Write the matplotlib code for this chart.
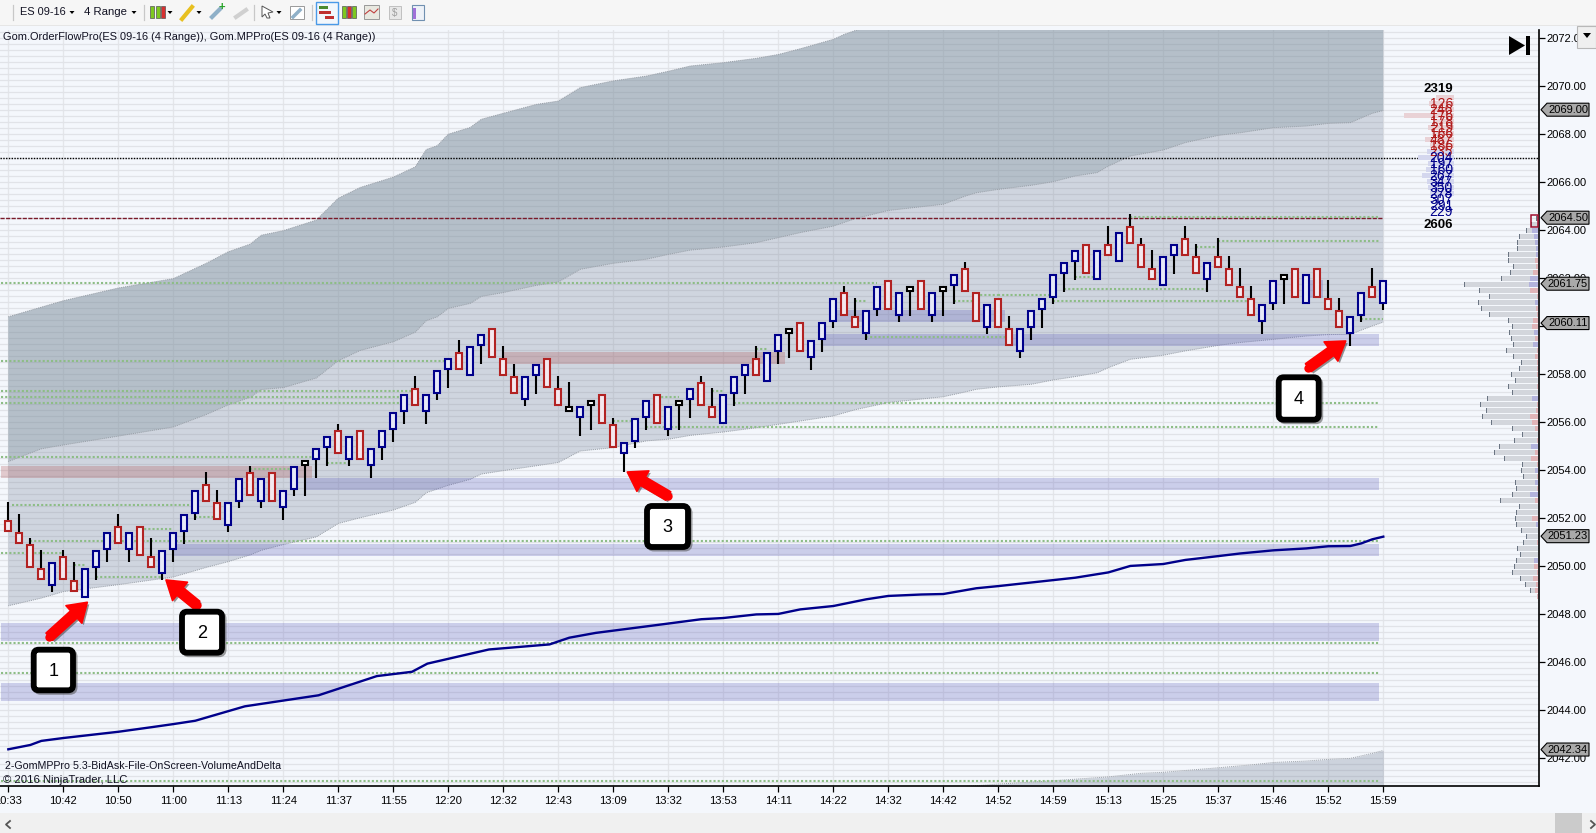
import matplotlib
matplotlib.use('Agg')
import matplotlib.pyplot as plt
from matplotlib.patches import Rectangle, Polygon, FancyBboxPatch, FancyArrowPatch

plt.rcParams['font.family'] = ['Liberation Sans', 'DejaVu Sans']

# candles, one entry per bar
candle_kind = ('rrrrbrrbbb' 'rbrrbbbbrr' 'bbrbrbbkbb' 'rbrbbbbrbb'
               'brbbrrrbbr' 'rkbkrrbbbr' 'bkbrrbbbrb' 'bkrbbbrrbb'
               'rbkrbkbrrb' 'rrbbbbbbrb' 'rbrrrbbrrb' 'rrrrbbkrbr' 'rrbbrb')
candle_top = [2052, 2051.5, 2051, 2050, 2050.25, 2050.5, 2049.5, 2050, 2050.75, 2051.5,
              2051.75, 2051.5, 2051.75, 2050.5, 2050.75, 2051.5, 2052.25, 2053.25, 2053.5, 2052.75,
              2052.75, 2053.75, 2054, 2053.75, 2054, 2053.25, 2054.25, 2054.5, 2055, 2055.5,
              2055.75, 2055.5, 2055.75, 2055, 2055.75, 2056.5, 2057.25, 2057.5, 2057.25, 2058.25,
              2058.75, 2059, 2059.25, 2059.75, 2060, 2058.75, 2058, 2058, 2058.5, 2058.75,
              2057.5, 2056.75, 2056.75, 2057, 2057.25, 2056, 2055.25, 2056.25, 2057, 2057.25,
              2056.75, 2057, 2057.5, 2057.75, 2056.75, 2057.25, 2058, 2058.5, 2058.75, 2059,
              2059.75, 2060, 2060.25, 2059.5, 2060.25, 2061.25, 2061.5, 2060.5, 2060.75, 2061.75,
              2062, 2061.5, 2061.75, 2062, 2061.5, 2061.75, 2062.25, 2062.5, 2061.5, 2061,
              2061.25, 2060, 2060, 2060.75, 2061.25, 2062.25, 2062.75, 2063.25, 2063.5, 2063.25,
              2063.5, 2064, 2064.25, 2063.5, 2062.5, 2063, 2063.5, 2063.75, 2063, 2062.75,
              2063, 2062.5, 2061.75, 2061.25, 2061, 2062, 2062.25, 2062.5, 2062.25, 2062.5,
              2061.25, 2060.75, 2060.5, 2061.5, 2061.75, 2062]
candle_bottom = [2051.5, 2051, 2050, 2049.5, 2049.25, 2049.5, 2049, 2048.75, 2050, 2050.75,
                 2051, 2050.75, 2050.5, 2050, 2049.75, 2050.75, 2051.5, 2052.25, 2052.75, 2052,
                 2051.75, 2052.75, 2053, 2052.75, 2052.75, 2052.5, 2053.25, 2054.25, 2054.5, 2055,
                 2054.75, 2054.5, 2054.5, 2054.25, 2055, 2055.75, 2056.5, 2056.75, 2056.5, 2057.25,
                 2058.25, 2058.25, 2058, 2059.25, 2058.75, 2058, 2057.25, 2057, 2058, 2057.5,
                 2056.75, 2056.5, 2056.25, 2056.75, 2056, 2055, 2054.75, 2055.25, 2056.25, 2056,
                 2055.75, 2056.75, 2057, 2056.75, 2056.25, 2056, 2057.25, 2058, 2058, 2057.75,
                 2059, 2059.75, 2059, 2058.75, 2059.5, 2060.25, 2060.5, 2060, 2059.75, 2060.75,
                 2060.75, 2060.5, 2061.5, 2060.75, 2060.5, 2061.5, 2061.75, 2061.5, 2060.25, 2060,
                 2060, 2059.25, 2059, 2060, 2060.75, 2061.25, 2062.25, 2062.75, 2062.25, 2062,
                 2063, 2062.75, 2063.5, 2062.5, 2062, 2061.75, 2063, 2063, 2062.25, 2062,
                 2062.5, 2061.75, 2061.25, 2060.5, 2060.25, 2061, 2062, 2061.25, 2061, 2061.25,
                 2060.75, 2060, 2059.75, 2060.5, 2061.25, 2061]
candle_high = [2052.75, 2052.25, 2051.25, 2050.75, 2050.25, 2050.75, 2050.25, 2050, 2050.75, 2051.5,
               2052.25, 2051.5, 2051.75, 2051.25, 2050.75, 2051.5, 2052.25, 2053.25, 2054, 2053.25,
               2052.75, 2053.75, 2054.25, 2053.75, 2054, 2053.25, 2054.25, 2054.5, 2055, 2055.5,
               2056, 2055.5, 2055.75, 2055, 2055.75, 2056.5, 2057.25, 2058, 2057.25, 2058.25,
               2058.75, 2059.5, 2059.25, 2059.75, 2060, 2059.25, 2058.5, 2058, 2058.5, 2058.75,
               2058, 2057.75, 2056.75, 2057, 2057.25, 2056.25, 2055.25, 2056.25, 2057, 2057.25,
               2056.75, 2057, 2057.5, 2058, 2057.5, 2057.25, 2058, 2058.5, 2059.25, 2059,
               2059.75, 2060, 2060.25, 2059.5, 2060.25, 2061.25, 2061.75, 2061.25, 2060.75, 2061.75,
               2062, 2061.5, 2061.75, 2062, 2061.5, 2061.75, 2062.25, 2062.75, 2061.5, 2061,
               2061.25, 2060.5, 2060, 2060.75, 2061.25, 2062.25, 2062.75, 2063.25, 2063.5, 2063.25,
               2064.25, 2064, 2064.75, 2063.75, 2063.25, 2063, 2063.5, 2064.25, 2063.5, 2062.75,
               2063.75, 2063, 2062.5, 2061.75, 2061, 2062, 2062.25, 2062.5, 2062.25, 2062.5,
               2062, 2061.25, 2060.5, 2061.5, 2062.5, 2062]
candle_low = [2051.5, 2051, 2050, 2049.5, 2049, 2049.5, 2049, 2048.75, 2049.5, 2050.25,
              2051, 2050.25, 2050.5, 2050, 2049.5, 2050.25, 2051, 2052, 2052.75, 2052,
              2051.5, 2052.5, 2053, 2052.5, 2052.75, 2052, 2053, 2053, 2053.75, 2054.25,
              2054.75, 2054.25, 2054.5, 2053.75, 2054.5, 2055.25, 2056, 2056.75, 2056, 2057,
              2057.5, 2058.25, 2058, 2058.5, 2058.75, 2058, 2057.25, 2056.75, 2057.25, 2057.5,
              2056.75, 2056.5, 2055.5, 2055.75, 2056, 2055, 2054, 2055, 2055.75, 2056,
              2055.5, 2055.75, 2056.25, 2056.75, 2056.25, 2056, 2056.75, 2057.25, 2058, 2057.75,
              2058.5, 2058.75, 2059, 2058.25, 2059, 2060, 2060.5, 2060, 2059.5, 2060.5,
              2060.75, 2060.25, 2060.5, 2060.75, 2060.25, 2060.5, 2061, 2061.5, 2060.25, 2059.75,
              2060, 2059.25, 2058.75, 2059.5, 2060, 2061, 2061.5, 2062, 2062.25, 2062,
              2063, 2062.75, 2063.5, 2062.5, 2062, 2061.75, 2062.25, 2063, 2062.25, 2061.5,
              2062.5, 2061.75, 2061.25, 2060.5, 2059.75, 2060.75, 2061, 2061.25, 2061, 2061.25,
              2060.75, 2060, 2059.25, 2060.25, 2061.25, 2060.75]

time_labels = ['10:33', '10:42', '10:50', '11:00', '11:13', '11:24', '11:37', '11:55', '12:20', '12:32',
               '12:43', '13:09', '13:32', '13:53', '14:11', '14:22', '14:32', '14:42', '14:52', '14:59',
               '15:13', '15:25', '15:37', '15:46', '15:52', '15:59']

# band edges, read at the bars listed
upper2_bar = [0, 5, 10, 15, 18, 20, 22, 23, 25, 28, 30, 32, 35, 37, 38, 39, 40, 42, 43, 45, 48, 50, 52, 55,
              58, 60, 62, 65, 68, 70, 72, 75, 76, 77, 80, 90, 100, 110, 125]
upper2_val = [2060.37, 2061.04, 2061.57, 2061.96, 2062.6, 2063.08, 2063.4, 2063.77, 2063.96, 2064.4, 2065.31,
              2065.76, 2066.19, 2066.62, 2067.34, 2067.5, 2067.98, 2068.26, 2068.6, 2068.85, 2069.22, 2069.36,
              2069.92, 2070.2, 2070.4, 2070.6, 2070.82, 2070.96, 2071.14, 2071.3, 2071.54, 2071.93, 2072.14,
              2072.3, 2072.7, 2073.4, 2074.4, 2075.5, 2076.5]
upper1_bar = [0, 3, 5, 10, 15, 18, 20, 22, 23, 25, 28, 30, 32, 35, 37, 38, 39, 40, 42, 43, 45, 48, 50, 52, 55,
              58, 60, 62, 65, 68, 70, 72, 75, 77, 80, 85, 87, 88, 90, 93, 95, 97, 99, 100, 102, 105, 107, 110,
              112, 115, 118, 120, 122, 124, 125]
upper1_val = [2054.34, 2054.87, 2055.03, 2055.4, 2055.78, 2056.3, 2056.7, 2057.02, 2057.34, 2057.42, 2057.82,
              2058.54, 2058.97, 2059.33, 2059.73, 2060.21, 2060.37, 2060.72, 2060.93, 2061.22, 2061.38, 2061.68,
              2061.82, 2062.35, 2062.6, 2062.77, 2062.97, 2063.15, 2063.28, 2063.46, 2063.67, 2063.88, 2064.15,
              2064.46, 2064.8, 2065.06, 2065.4, 2065.54, 2065.68, 2065.85, 2066, 2066.24, 2066.38, 2066.65,
              2067.07, 2067.32, 2067.63, 2067.93, 2068.04, 2068.25, 2068.32, 2068.43, 2068.46, 2068.85, 2068.97]
lower1_bar = [0, 3, 5, 10, 15, 18, 20, 22, 23, 25, 28, 30, 32, 35, 37, 38, 40, 42, 43, 45, 50, 52, 55, 58, 60,
              62, 65, 68, 70, 72, 75, 77, 80, 85, 87, 88, 90, 93, 95, 97, 99, 100, 102, 105, 107, 110, 112, 115,
              118, 120, 122, 124, 125]
lower1_val = [2048.33, 2048.65, 2048.92, 2049.21, 2049.53, 2049.93, 2050.17, 2050.45, 2050.64, 2050.88, 2051.2,
              2051.76, 2052, 2052.32, 2052.64, 2053.04, 2053.35, 2053.6, 2053.82, 2053.96, 2054.3, 2054.78,
              2054.92, 2055.2, 2055.27, 2055.43, 2055.57, 2055.75, 2055.89, 2056.03, 2056.24, 2056.5, 2056.8,
              2057.04, 2057.24, 2057.35, 2057.45, 2057.56, 2057.74, 2057.88, 2058.04, 2058.25, 2058.6, 2058.77,
              2058.95, 2059.18, 2059.3, 2059.43, 2059.57, 2059.63, 2059.64, 2059.99, 2060.15]
lower2_bar = [87, 90, 95, 100, 103, 105, 110, 113, 115, 118, 120, 122, 124, 125]
lower2_val = [2040.8, 2040.9, 2041.04, 2041.2, 2041.35, 2041.39, 2041.58, 2041.7, 2041.8, 2041.86, 2041.93,
              2041.97, 2042.18, 2042.3]

# blue average line
avg_bar = [0, 2, 3, 5, 10, 13, 15, 17, 21.5, 28.2, 33.5, 36.7, 38.1, 43.7, 49.2, 51, 53.4, 58.5, 63, 65, 68, 70,
           72, 75, 78, 80, 83, 85, 88, 90, 95, 97, 100, 102, 105, 107, 110, 112, 115, 118, 120, 122, 123, 124, 125]
avg_val = [2042.35, 2042.53, 2042.7, 2042.82, 2043.08, 2043.27, 2043.4, 2043.54, 2044.14, 2044.6, 2045.4, 2045.58,
           2045.92, 2046.51, 2046.72, 2047, 2047.2, 2047.5, 2047.77, 2047.82, 2047.97, 2047.99, 2048.18, 2048.32,
           2048.6, 2048.74, 2048.8, 2048.82, 2049.06, 2049.15, 2049.4, 2049.5, 2049.72, 2049.99, 2050.07, 2050.24,
           2050.4, 2050.51, 2050.64, 2050.72, 2050.81, 2050.82, 2050.93, 2051.1, 2051.21]

# shaded zones
blue_zone_top = [2047.6, 2045.1, 2050.9, 2053.65, 2059.65, 2060.65, 2061.9]
blue_zone_bot = [2046.85, 2044.36, 2050.4, 2053.15, 2059.15, 2060.15, 2061.15]
blue_zone_start = [-0.66, -0.66, 15, 27, 74, 75.3, 118.3]
blue_zone_end = [124.6, 124.6, 124.6, 124.6, 124.6, 90.6, 119.5]
red_zone_top = [2054.15, 2058.9]
red_zone_bot = [2053.67, 2058.4]
red_zone_start = [-0.66, 45]
red_zone_end = [27.6, 70.6]

# green dotted levels
green_level = [2061.75, 2058.5, 2057.25, 2057, 2056.75, 2054.5, 2052.5, 2051, 2050.5, 2050, 2049.5, 2051.5, 2052,
               2054.25, 2054, 2056, 2057, 2057.25, 2059, 2061, 2061, 2061.25, 2059.5, 2056.75, 2055.75, 2064.5,
               2063.5, 2063.25, 2062, 2061.5, 2061.25, 2061, 2060.25, 2046.75, 2045.5, 2041]
green_start = [-0.66, -0.66, -0.66, -0.66, -0.66, -0.66, 0.3, 2, -0.66, 6, 8, 12, 17, 29, 22, 55, 59, 64, 68, 77,
               86, 88, 78, 66, 58, 102, 110, 108, 97, 96, 90, 95, 123, -0.66, -0.66, -0.66]
green_end = [79, 40, 37, 36, 36, 28, 17, 124.6, 5, 7, 14, 15, 19, 31, 26, 57, 61, 65, 69, 78, 88, 90, 91, 124.6,
             124.6, 124.6, 124.6, 110, 99, 109, 95, 113, 125, 124.6, 124.6, 124.6]

# volume profile on the right, from 2064.50 down in steps of 0.25
profile_vol = [2, 7, 12, 19, 21, 21, 30, 30, 25, 28, 37, 74, 59, 49, 60, 57, 49, 30, 26, 29, 27, 25, 32, 25, 17, 19,
               27, 23, 30, 26, 51, 58, 52, 56, 47, 26, 16, 24, 39, 44, 34, 16, 17, 15, 23, 22, 26, 38, 19, 22, 23,
               22, 17, 12, 15, 21, 18, 22, 24, 26, 18, 13, 8, 1]
profile_delta = [-1, 0, 6, 4, 3, 2, 2, -3, -2, -5, 8, 9, -8, -1, 3, -2, -1, -5, -6, 4, -3, 5, -1, -3, -1, -1, -1, 0,
                 -1, 0, 6, -1, -2, -8, -6, -3, 0, -1, 7, -3, -7, -1, 3, -1, 3, -1, 8, -3, 0, 0, -6, 2, 0, 0, -1, 0,
                 0, 4, -4, -1, -5, -2, -3, -1]
# short profile at the top with its numbers
top_prices = [2069.25, 2069, 2068.75, 2068.5, 2068.25, 2068, 2067.75, 2067.5, 2067.25, 2067, 2066.75, 2066.5,
              2066.25, 2066, 2065.75, 2065.5, 2065.25, 2065, 2064.75]
top_numbers = ['126', '246', '176', '178', '219', '166', '487', '186', '235',
               '204', '197', '160', '267', '347', '350', '278', '307', '291', '229']
top_bar_price = [2069.5, 2069.25, 2069, 2068.75, 2068.5, 2068.25, 2068, 2067.75, 2067.5,
                 2067.25, 2067, 2066.75, 2066.5, 2066.25, 2066, 2065.75, 2065.5]
top_bar_len = [18, 25, 22, 50, 21, 26, 22, 29, 24, 27, 36, 26, 28, 32, 27, 26, 24]
top_totals = ['2319', '2606']

tag_prices = [2069.00, 2064.50, 2061.75, 2060.11, 2051.23, 2042.34]

BG = '#f4f7fc'
PX = 11.0  # pixels per bar
fig = plt.figure(figsize=(15.96, 8.33), dpi=100, facecolor=BG)


def y_frac(y):
    return 1 - y / 833


ax = fig.add_axes([0, y_frac(786), 1539 / 1596, (786 - 30) / 833], facecolor=BG)
ax.set_xlim(-8.3 / PX, (1539 - 8.3) / PX)
ax.set_ylim(2064 - (786 - 229.7) / 24, 2064 + (229.7 - 30) / 24)

# grid every tick, labels every 2 points
ax.set_yticks(list(range(2042, 2073, 2)))
ax.set_yticklabels(['%.2f' % v for v in range(2042, 2073, 2)])
ax.set_yticks([2041 + 0.25 * k for k in range(126)], minor=True)
ax.set_xticks(list(range(0, 126, 5)))
ax.set_xticklabels(time_labels)
ax.yaxis.tick_right()
ax.tick_params(axis='y', which='major', length=4.2, width=0.9, labelsize=8, pad=1.5, colors='black')
ax.tick_params(axis='x', which='major', length=4.2, width=0.9, labelsize=8, pad=3, colors='black')
ax.tick_params(axis='y', which='minor', length=0)
for lab in ax.get_xticklabels():
    lab.set_clip_on(False)
ax.grid(True, axis='y', which='both', color='#e1e3e8', lw=0.9)
ax.grid(True, axis='x', which='major', color='#e4e6ea', lw=0.9)
ax.set_axisbelow(True)
for side in ['top', 'left']:
    ax.spines[side].set_visible(False)
for side in ['bottom', 'right']:
    ax.spines[side].set_linewidth(1.2)

# the gray bands
slate = (100 / 255, 115 / 255, 140 / 255)
ax.fill(upper2_bar + lower1_bar[::-1], upper2_val + lower1_val[::-1], color=slate, alpha=0.25, lw=0, zorder=1.1)
ax.fill(upper2_bar + upper1_bar[::-1], upper2_val + upper1_val[::-1], color=(131 / 255, 151 / 255, 161 / 255),
        alpha=0.34, lw=0, zorder=1.2)
ax.fill_between(lower2_bar, 2040, lower2_val, color=slate, alpha=0.27, lw=0, zorder=1.1)
for xs, ys in [(upper2_bar, upper2_val), (upper1_bar, upper1_val), (lower1_bar, lower1_val), (lower2_bar, lower2_val)]:
    ax.plot(xs, ys, color='#989ea6', lw=0.7, ls=(0, (1, 1)), zorder=1.3)

for zone_top, bot, a, b in zip(blue_zone_top, blue_zone_bot, blue_zone_start, blue_zone_end):
    ax.barh(bot, b - a, height=zone_top - bot, left=a, align='edge', color=(0.33, 0.33, 0.72), alpha=0.25, lw=0, zorder=1.4)
for zone_top, bot, a, b in zip(red_zone_top, red_zone_bot, red_zone_start, red_zone_end):
    ax.barh(bot, b - a, height=zone_top - bot, left=a, align='edge', color=(0.68, 0.28, 0.28), alpha=0.25, lw=0, zorder=1.4)

ax.hlines(2067, -0.76, 139.2, color='black', lw=1.0, ls=(0, (1, 1)), zorder=1.6)
ax.hlines(2064.5, -0.76, 125, color='#7a1a2a', lw=1.0, ls=(0, (3, 1)), zorder=1.6)
for lev, a, b in zip(green_level, green_start, green_end):
    ax.hlines(lev + 0.04, a, b, color='#8dbd86', lw=1.5, ls=(0, (1, 1)), zorder=1.7)

ax.plot(avg_bar, avg_val, color='#00008b', lw=1.7, zorder=2)

# candles
body_width = 6 / PX
for i in range(126):
    k = candle_kind[i]
    edge = {'r': '#b22222', 'b': '#00008b', 'k': 'black'}[k]
    fill = {'r': '#f4e8ee', 'b': '#e6e9f8', 'k': 'white'}[k]
    ax.vlines(i, candle_low[i] - 0.09, candle_high[i] - 0.09, color='black', lw=1.5, zorder=3)
    ax.bar(i, candle_top[i] - candle_bottom[i] - 0.05, bottom=candle_bottom[i] - 0.07, width=body_width,
           color=fill, edgecolor=edge, lw=1.5, zorder=4)

# volume profile
right_bar = (1538 - 8.3) / PX
for n, (vol, delta) in enumerate(zip(profile_vol, profile_delta)):
    price = 2064.5 - 0.25 * n - 0.02
    ax.barh(price, vol / PX, height=0.2, left=right_bar - vol / PX, color='#d3d6dc', lw=0, zorder=3)
    ax.barh(price, 1 / PX, height=0.2, left=right_bar - vol / PX, color='#6a7482', lw=0, zorder=3.1)
    if delta != 0:
        col = '#b3b3dc' if delta > 0 else '#e0b4b8'
        ax.barh(price, abs(delta) / PX, height=0.2, left=right_bar - abs(delta) / PX, color=col, lw=0, zorder=3.1)
ax.add_patch(Rectangle((right_bar - 7 / PX, 2064.1), 7 / PX, 0.5, fill=False, edgecolor='#a01030', lw=1.1, zorder=3.2))

top_right = (1454 - 8.3) / PX
for n, (price, blen) in enumerate(zip(top_bar_price, top_bar_len)):
    col = '#e9d2d6' if n < 9 else '#d4d7ee'
    ax.barh(price, blen / PX, height=0.22, left=top_right - blen / PX, color=col, lw=0, zorder=3)
text_x = (1453 - 8.3) / PX
for n, (price, num) in enumerate(zip(top_prices, top_numbers)):
    ax.text(text_x, price, num, ha='right', va='center', fontsize=10, color='#b01818' if n < 9 else '#00008b', zorder=5)
ax.text(text_x, 2069.87, top_totals[0], ha='right', va='center', fontsize=9.5, fontweight='bold', color='black', zorder=5)
ax.text(text_x, 2064.2, top_totals[1], ha='right', va='center', fontsize=9.5, fontweight='bold', color='black', zorder=5)

# overlay in image pixels for the window parts and the notes
top = fig.add_axes([0, 0, 1, 1], facecolor='none')
top.set_xlim(0, 1596)
top.set_ylim(833, 0)
top.axis('off')


def price_y(p):
    return 229.7 + (2064 - p) * 24


for p in tag_prices:
    y = price_y(p)
    top.add_patch(Polygon([(1541, y), (1547, y - 6.5), (1589, y - 6.5), (1589, y + 6.5), (1547, y + 6.5)],
                          closed=True, facecolor='#a9a9a9', edgecolor='black', lw=0.8, zorder=6))
    top.text(1568, y, '%.2f' % p, ha='center', va='center', fontsize=8, color='black', zorder=7)

top.text(3, 37, 'Gom.OrderFlowPro(ES 09-16 (4 Range)), Gom.MPPro(ES 09-16 (4 Range))', fontsize=7.9, va='center', color='#111122')
top.text(5, 766, '2-GomMPPro 5.3-BidAsk-File-OnScreen-VolumeAndDelta', fontsize=7.65, va='center', color='#111122', zorder=6)
top.text(3, 780, '\u00a9 2016 NinjaTrader, LLC', fontsize=8.1, va='center', color='#111122', zorder=6)

# skip-to-end button
top.add_patch(Polygon([(1509, 36), (1525, 45.5), (1509, 55)], closed=True, color='black', lw=0))
top.add_patch(Rectangle((1526, 36), 4, 19, color='black', lw=0))

# toolbar
top.add_patch(Rectangle((0, 0), 1596, 25, facecolor='#f6f6f6', edgecolor='none', zorder=0.5))
top.add_patch(Rectangle((0, 25), 1596, 1, facecolor='#e6e6e6', edgecolor='none', zorder=0.5))
top.text(20, 12, 'ES 09-16', fontsize=7.9, va='center', color='#111122')
top.text(84, 12, '4 Range', fontsize=8.2, va='center', color='#111122')
for cx in [72, 134, 170, 199, 279]:
    top.add_patch(Polygon([(cx - 2.5, 11), (cx + 2.5, 11), (cx, 14)], closed=True, color='black', lw=0))
for sx in [12.5, 144, 254, 312]:
    top.plot([sx, sx], [5, 20], color='#c8c8c8', lw=0.9)
for cx, col in zip([152, 157.5, 163], ['#7ec820', '#7ec820', '#d83030']):
    top.add_patch(Rectangle((cx - 2, 6), 4, 12, facecolor=col, edgecolor='#555555', lw=0.5))
top.plot([182, 192], [19, 7], color='#e8c020', lw=3)
top.plot([212, 220], [17, 9], color='#8fb0c8', lw=3)
top.text(222, 7, '+', color='#20a020', fontsize=8, fontweight='bold', ha='center', va='center')
top.plot([236, 246], [17, 10], color='#d0d0d0', lw=3)
top.add_patch(Polygon([(262, 6), (273, 12), (268, 13), (270, 18), (267, 18), (265, 14), (262, 17)], closed=True,
                      facecolor='white', edgecolor='#555555', lw=0.7))
top.add_patch(Rectangle((290, 6), 14, 13, facecolor='white', edgecolor='#999999', lw=0.7))
top.plot([293, 300], [17, 10], color='#8fb0c8', lw=2.5)
top.add_patch(Rectangle((315.5, 1.5), 22, 22, facecolor='#f2f7fc', edgecolor='#4a9ae8', lw=1))
for (a, b, yy, col) in [(319, 328, 7, '#4a8a30'), (319, 331, 12, '#c03030'), (325, 334, 17, '#c03030')]:
    top.add_patch(Rectangle((a, yy - 1.5), b - a, 3, color=col, lw=0))
for a, col in [(342, '#7ec820'), (347, '#d83030'), (352, '#7ec820')]:
    top.add_patch(Rectangle((a, 6), 4, 12, facecolor=col, edgecolor='#555555', lw=0.5))
top.add_patch(Rectangle((364, 5), 15, 14, facecolor='#e8e8e0', edgecolor='#999999', lw=0.7))
top.plot([365, 370, 374, 378], [14, 10, 13, 9], color='#c04040', lw=0.8)
top.add_patch(Rectangle((389, 6), 12, 13, facecolor='#e8e8e8', edgecolor='#c0c0c0', lw=0.7))
top.text(395, 12.5, '$', fontsize=7, ha='center', va='center', color='#a0a0a0', parse_math=False)
top.add_patch(Rectangle((412, 5), 12, 15, facecolor='#eef2f8', edgecolor='#7090b0', lw=0.8))
top.add_patch(Rectangle((413, 8), 3, 11, color='#a070d8', lw=0))

# dropdown at the top right of the price scale
top.add_patch(Rectangle((1577, 26), 19, 22, facecolor='#efefef', edgecolor='#b8b8b8', lw=0.8, zorder=6))
top.add_patch(Polygon([(1583, 33), (1591, 33), (1587, 38)], closed=True, color='black', lw=0, zorder=7))

# scrollbar
top.add_patch(Rectangle((0, 813), 1596, 20, facecolor='#f0f0f0', edgecolor='none', zorder=0.5))
top.add_patch(Rectangle((1555, 813), 27, 20, facecolor='#cbcbcb', edgecolor='none', zorder=0.6))
top.plot([10, 6, 10], [821, 824.5, 828], color='#555555', lw=1.3)
top.plot([1591, 1595, 1591], [821, 824.5, 828], color='#555555', lw=1.3)

# numbered notes with red arrows
notes = [('1', 30.7, 76, 646.7, 693.3, 49.3, 636.7, 87.3, 602.3),
         ('2', 179, 225, 608.7, 655.7, 196.7, 605, 166, 580),
         ('3', 644, 691, 503, 550, 668.3, 496, 627.3, 472),
         ('4', 1275.7, 1321.7, 374.3, 422.7, 1308.3, 367.7, 1345.7, 341)]
for label, x0, x1, y0, y1, tx, ty, hx, hy in notes:
    style = 'simple,head_width=1.7,head_length=1.3,tail_width=0.7'
    top.add_patch(FancyArrowPatch((tx + 2, ty + 2), (hx + 2, hy + 2), arrowstyle=style, mutation_scale=10,
                                  color='#404040', alpha=0.55, lw=0, shrinkA=0, shrinkB=0, zorder=7.5))
    top.add_patch(FancyArrowPatch((tx, ty), (hx, hy), arrowstyle=style, mutation_scale=10, color='#ff0000', lw=1.2,
                                  shrinkA=0, shrinkB=0, zorder=8))
    top.plot([tx], [ty], 'o', ms=6, color='#ff0000', mew=0, zorder=8)
    inset = 3
    top.add_patch(FancyBboxPatch((x0 + inset + 2, y0 + inset + 2), x1 - x0 - 2 * inset, y1 - y0 - 2 * inset,
                                 boxstyle='round,pad=0,rounding_size=5', facecolor='#505050', edgecolor='#505050',
                                 alpha=0.55, lw=3.6, zorder=8.5))
    top.add_patch(FancyBboxPatch((x0 + inset, y0 + inset), x1 - x0 - 2 * inset, y1 - y0 - 2 * inset,
                                 boxstyle='round,pad=0,rounding_size=5', facecolor='white', edgecolor='black',
                                 lw=4.2, zorder=9))
    top.text((x0 + x1) / 2, (y0 + y1) / 2 + 1, label, ha='center', va='center', fontsize=13, color='black', zorder=10)

fig.savefig('out.png', dpi=100, facecolor=BG)
